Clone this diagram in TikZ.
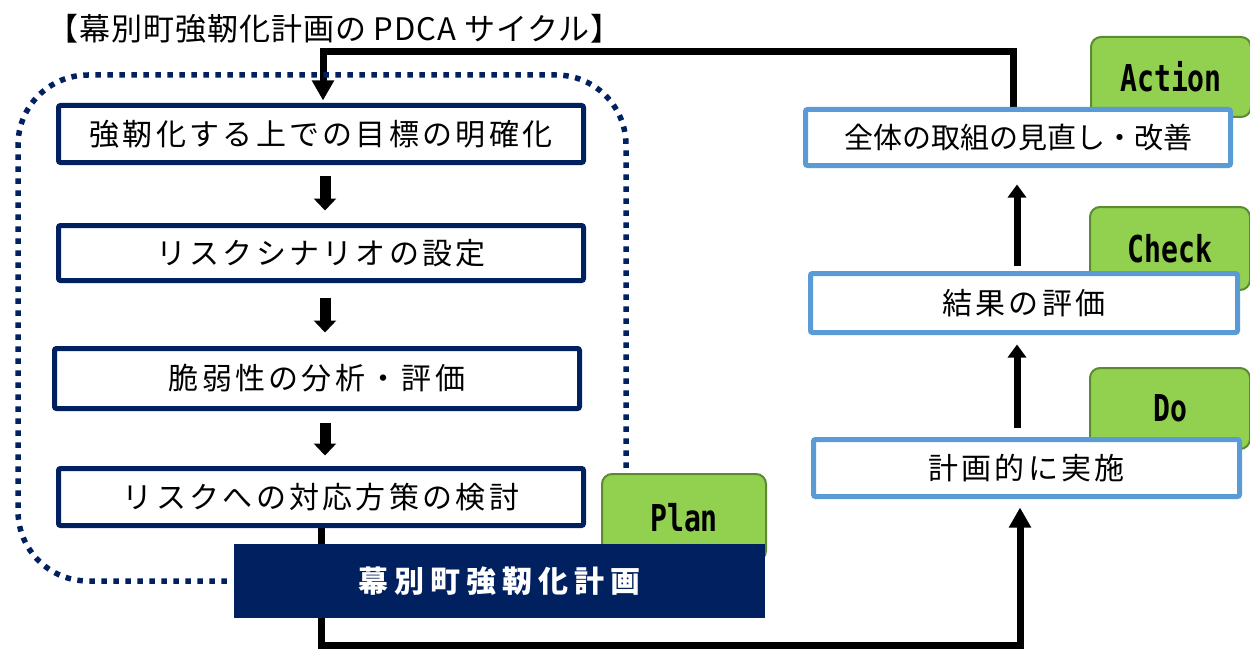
\documentclass[tikz,border=0pt]{standalone}
\usepackage{fontspec}
\usepackage{graphicx}
\usetikzlibrary{arrows.meta,calc}
\setmainfont{Noto Sans CJK JP}
\newfontfamily\jpls[LetterSpace=11]{Noto Sans CJK JP}
\newfontfamily\jpwide[LetterSpace=20]{Noto Sans CJK JP}
\newfontfamily\jptitle[LetterSpace=3]{Noto Sans CJK JP}
\newfontfamily\lblfont{DejaVu Sans Mono}
\definecolor{navy}{HTML}{002060}
\definecolor{skyb}{HTML}{5B9BD5}
\definecolor{gfill}{HTML}{92D050}
\definecolor{gline}{HTML}{5C8A33}
\pgfdeclarelayer{back}
\pgfdeclarelayer{bg}
\pgfsetlayers{back,bg,main}
\newcommand{\lbltext}[1]{\scalebox{0.76}[1]{#1}}
\begin{document}
\begin{tikzpicture}[x=1pt,y=-1pt,
  navybox/.style={draw=navy, line width=5pt, fill=white, rounded corners=2pt,
    minimum width=525pt, inner sep=0pt, font=\fontsize{30}{36}\selectfont\jpls},
  bluebox/.style={draw=skyb, line width=5pt, fill=white, rounded corners=2pt,
    inner sep=0pt, font=\fontsize{30}{36}\selectfont\jpls},
  pdca/.style={draw=gline, line width=2pt, fill=gfill, rounded corners=10pt,
    inner sep=0pt, minimum width=160pt, font=\fontsize{37}{40}\selectfont\lblfont\bfseries},
  dotline/.style={draw=navy, line width=5.5pt, dash pattern=on 5.5pt off 6.5pt, rounded corners=70pt},
  downarrow/.style={draw=black, line width=11pt, -{Triangle[width=22pt,length=12pt]}},
  uparrow/.style={draw=black, line width=7pt, -{Triangle[width=18pt,length=13pt]}},
  conn/.style={draw=black, line width=7pt, -{Triangle[width=21pt,length=20pt]}},
  darkbox/.style={fill=navy, text=white, inner sep=0pt, minimum width=531pt, minimum height=74pt,
    font=\fontsize{30}{36}\selectfont\jpwide\bfseries},
  titlestyle/.style={inner sep=0pt, font=\fontsize{31}{36}\selectfont\jptitle}
]
\useasboundingbox (0,0) rectangle (1250,650);
\begin{pgfonlayer}{back}
\fill[white] (0,0) rectangle (1250,650);
\end{pgfonlayer}

% title
\node[titlestyle] (title) at (334.5,28.5) {【幕別町強靭化計画の PDCA サイクル】};

% PDCA labels (drawn first, partly covered)
\node[pdca, minimum width=164pt, minimum height=87pt] (plan) at (684,517.5) {\lbltext{Plan}};
\node[pdca, minimum height=80pt] (act) at (1171,77) {\lbltext{Action}};
\node[pdca, minimum height=83pt] (chk) at (1170,248.5) {\lbltext{Check}};
\node[pdca, minimum height=81pt] (do) at (1170,408.5) {\lbltext{Do}};

% left boxes
\node[navybox, minimum height=57pt] (b1) at (321,134) {強靭化する上での目標の明確化};
\node[navybox, minimum height=55pt] (b2) at (321,253) {リスクシナリオの設定};
\node[navybox, minimum height=60pt] (b3) at (317,378.5) {脆弱性の分析・評価};
\node[navybox, minimum height=57pt] (b4) at (321,497) {リスクへの対応方策の検討};

% right boxes
\node[bluebox, minimum width=425pt, minimum height=56pt, font=\fontsize{29}{35}\selectfont] (ra) at (1018,137.5) {全体の取組の見直し・改善};
\node[bluebox, minimum width=427pt, minimum height=59pt] (rc) at (1024,303) {結果の評価};
\node[bluebox, minimum width=426pt, minimum height=57pt] (rd) at (1026.5,468) {計画的に実施};

% plan box
\node[darkbox] (pk) at (499.5,581) {幕別町強靭化計画};

% dotted frame
\draw[dotline] ($(pk.west)+(-7,0)$) -- (18,581) -- (18,75) -- (626,75) -- (626,468);

% down arrows
\coordinate (ax) at (325,0);
\draw[downarrow] ($(b1.south -| ax)+(0,10.5)$) -- ($(b2.north -| ax)+(0,-12.5)$);
\draw[downarrow] ($(b2.south -| ax)+(0,14.5)$) -- ($(b3.north -| ax)+(0,-13.5)$);
\draw[downarrow] ($(b3.south -| ax)+(0,11.5)$) -- ($(b4.north -| ax)+(0,-10.5)$);

% up arrows
\coordinate (rx) at (1017,0);
\draw[uparrow] ($(rc.north -| rx)+(0,-5.5)$) -- ($(ra.south -| rx)+(0,16.5)$);
\draw[uparrow] ($(rd.north -| rx)+(0,-9.5)$) -- ($(rc.south -| rx)+(0,9.5)$);

% connectors
\coordinate (t1) at (1013,52);
\coordinate (t2) at (323,52);
\coordinate (u1) at (321,645);
\coordinate (u2) at (1020,645);
\begin{pgfonlayer}{bg}
\draw[conn] (ra.north -| t1) -- (t1) -- (t2) -- ($(b1.north -| t2)+(0,-2.5)$);
\draw[conn] (b4.south -| u1) -- (u1) -- (u2) -- ($(rd.south -| u2)+(0,8.5)$);
\end{pgfonlayer}
\end{tikzpicture}
\end{document}
